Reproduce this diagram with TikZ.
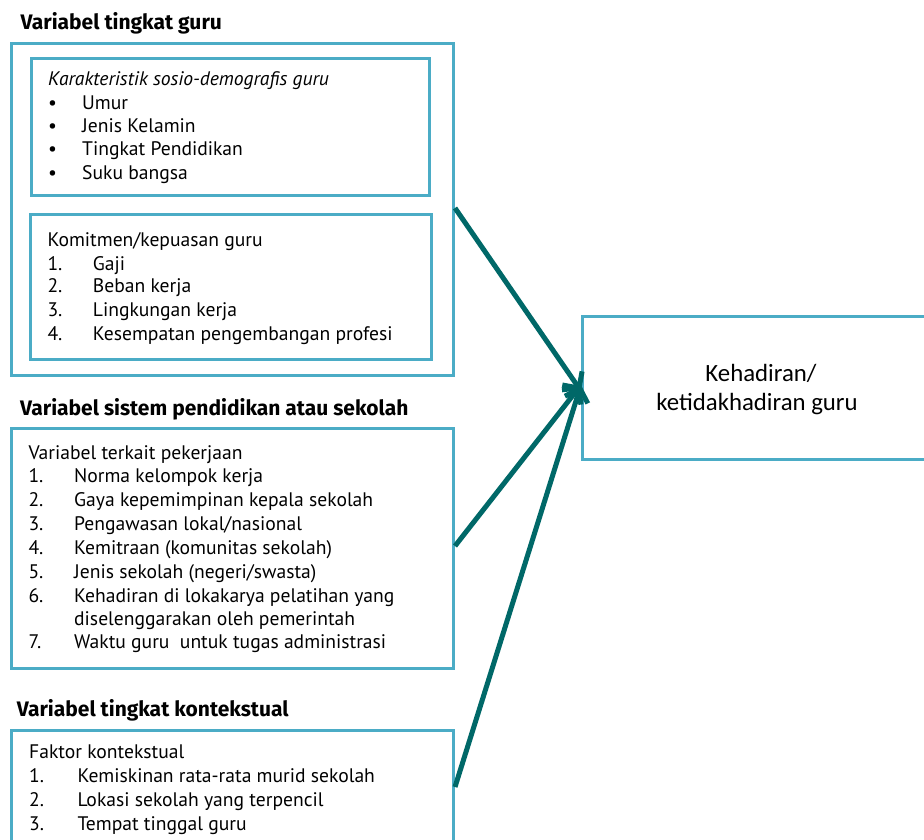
\documentclass[tikz,border=0pt]{standalone}
\usepackage{fontspec}
\setmainfont{PT Sans}
\newfontfamily\calfont{Carlito}
\newfontfamily\ttlfont{Fira Sans}
\usetikzlibrary{arrows.meta}
\definecolor{boxblue}{RGB}{75,172,198}
\definecolor{arrteal}{RGB}{0,104,104}
\tikzset{
  box/.style={draw=boxblue, line width=3pt, anchor=north west, inner sep=0pt},
  ttl/.style={anchor=base west, inner sep=0pt, font=\ttlfont\fontsize{21}{22}\selectfont\bfseries},
  ln/.style={anchor=base west, inner sep=0pt, font=\fontsize{19.6}{20}\selectfont},
  arr/.style={draw=arrteal, line width=5pt, -{Straight Barb[length=12pt,width=24pt]}}
}
\begin{document}
\begin{tikzpicture}[x=1pt,y=-1pt]
\clip (0,0) rectangle (924,840);
\fill[white] (0,0) rectangle (924,840);

% titles
\node[ttl] (t1) at (20.5,30) {Variabel tingkat guru};
\node[ttl] (t2) at (20,415) {Variabel sistem pendidikan atau sekolah};
\node[ttl] (t3) at (16.7,716) {Variabel tingkat kontekstual};

% boxes
\node[box, minimum width=442pt, minimum height=332pt] (g1) at (10,42) {};
\node[box, minimum width=398pt, minimum height=137pt] (g1a) at (30,57) {};
\node[box, minimum width=401pt, minimum height=145pt] (g1b) at (29,213) {};
\node[box, minimum width=442pt, minimum height=240pt] (g2) at (10,427) {};
\node[box, minimum width=442pt, minimum height=140pt] (g3) at (10,729) {};
\node[box, minimum width=360pt, minimum height=143pt] (out) at (581,315) {};

% box 1a
\node[ln, font=\fontsize{19.6}{20}\selectfont\itshape] (a0) at (48,86) {Karakteristik sosio-demografis guru};
\node[ln] (a1b) at (48,109.5) {•};
\node[ln] (a1) at (82,109.5) {Umur};
\node[ln] (a2b) at (48,132.8) {•};
\node[ln] (a2) at (82,132.8) {Jenis Kelamin};
\node[ln] (a3b) at (48,156) {•};
\node[ln] (a3) at (82,156) {Tingkat Pendidikan};
\node[ln] (a4b) at (48,179.5) {•};
\node[ln] (a4) at (82,179.5) {Suku bangsa};

% box 1b
\node[ln] (b0) at (47.3,246) {Komitmen/kepuasan guru};
\node[ln] (b1n) at (47.3,270) {1.};
\node[ln] (b1) at (92.7,270) {Gaji};
\node[ln] (b2n) at (47.3,292.7) {2.};
\node[ln] (b2) at (92.7,292.7) {Beban kerja};
\node[ln] (b3n) at (47.3,316.7) {3.};
\node[ln] (b3) at (92.7,316.7) {Lingkungan kerja};
\node[ln] (b4n) at (47.3,340.7) {4.};
\node[ln] (b4) at (92.7,340.7) {Kesempatan pengembangan profesi};

% box 2
\node[ln] (c0) at (28.3,459.3) {Variabel terkait pekerjaan};
\node[ln] (c1n) at (28.3,482.7) {1.};
\node[ln] (c1) at (74,482.7) {Norma kelompok kerja};
\node[ln] (c2n) at (28.3,506.7) {2.};
\node[ln] (c2) at (74,506.7) {Gaya kepemimpinan kepala sekolah};
\node[ln] (c3n) at (28.3,530.7) {3.};
\node[ln] (c3) at (74,530.7) {Pengawasan lokal/nasional};
\node[ln] (c4n) at (28.3,554.3) {4.};
\node[ln] (c4) at (74,554.3) {Kemitraan (komunitas sekolah)};
\node[ln] (c5n) at (28.3,578.3) {5.};
\node[ln] (c5) at (74,578.3) {Jenis sekolah (negeri/swasta)};
\node[ln] (c6n) at (28.3,602.3) {6.};
\node[ln] (c6) at (74,602.3) {Kehadiran di lokakarya pelatihan yang};
\node[ln] (c6b) at (74,625) {diselenggarakan oleh pemerintah};
\node[ln] (c7n) at (28.3,648.3) {7.};
\node[ln] (c7) at (74,648.3) {Waktu guru\ \ untuk tugas administrasi};

% box 3
\node[ln] (d0) at (29,758.3) {Faktor kontekstual};
\node[ln] (d1n) at (29,782.7) {1.};
\node[ln] (d1) at (77.3,782.7) {Kemiskinan rata-rata murid sekolah};
\node[ln] (d2n) at (29,806.7) {2.};
\node[ln] (d2) at (77.3,806.7) {Lokasi sekolah yang terpencil};
\node[ln] (d3n) at (29,830) {3.};
\node[ln] (d3) at (77.3,830) {Tempat tinggal guru};

% output text
\node[anchor=base, inner sep=0pt, font=\calfont\fontsize{24.8}{28}\selectfont] (o1) at (761,381.7) {Kehadiran/};
\node[anchor=base, inner sep=0pt, font=\calfont\fontsize{24.8}{28}\selectfont] (o2) at (757,410) {ketidakhadiran guru};

% arrows
\coordinate (s1) at (g1.east |- 0,208);
\coordinate (s2) at (g2.east |- 0,546);
\coordinate (s3) at (g3.east |- 0,787);
\coordinate (e1) at ([yshift=-3pt]out.west);
\coordinate (e2) at ([yshift=3pt]out.west);
\draw[arr] (s1) -- (e1);
\draw[arr] (s2) -- (e2);
\draw[arr] (s3) -- (e2);
\end{tikzpicture}
\end{document}
